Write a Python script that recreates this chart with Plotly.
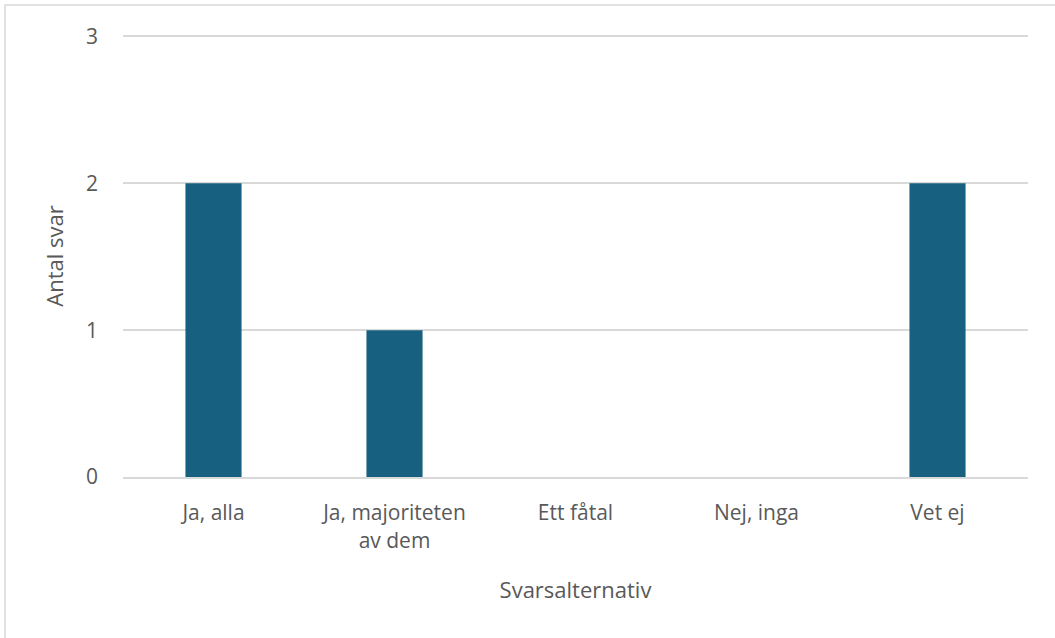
import plotly.graph_objects as go

# data
categories = ['Ja, alla', 'Ja, majoriteten<br>av dem', 'Ett fåtal', 'Nej, inga', 'Vet ej']
antal_svar = [2, 1, 0, 0, 2]
y_ticks = [0, 1, 2, 3]

bar_color = '#17607F'
txt_color = '#595959'
grid_color = '#D9D9D9'

fig = go.Figure(go.Bar(x=categories, y=antal_svar, marker_color=bar_color,
                       marker_line_width=0, width=0.31))

fig.update_layout(
    width=1055, height=638,
    margin=dict(l=123, r=27, t=35, b=161),
    paper_bgcolor='white', plot_bgcolor='white',
    font=dict(family='Open Sans, sans-serif', size=21, color=txt_color),
    showlegend=False,
)
fig.update_xaxes(
    title=dict(text='Svarsalternativ', standoff=30, font=dict(size=22)),
    showline=True, linecolor=grid_color, linewidth=2,
    showgrid=False, ticks='', ticklabelstandoff=16,
)
fig.update_yaxes(
    title=dict(text='Antal svar', standoff=16, font=dict(size=22)),
    range=[0, 3.01], tickvals=y_ticks,
    showgrid=True, gridcolor=grid_color, gridwidth=1.5,
    zeroline=False, showline=False, ticks='', ticklabelstandoff=24,
)

# chart border (only the left and top edges fall inside the picture)
fig.add_shape(type='rect', xref='paper', yref='paper',
              x0=-0.1304, x1=1.06, y0=-0.42, y1=1.0679,
              line=dict(color=grid_color, width=1.5), layer='below')

fig.write_html('out.html', config={'displayModeBar': False},
               post_script="document.body.style.margin='0';")
